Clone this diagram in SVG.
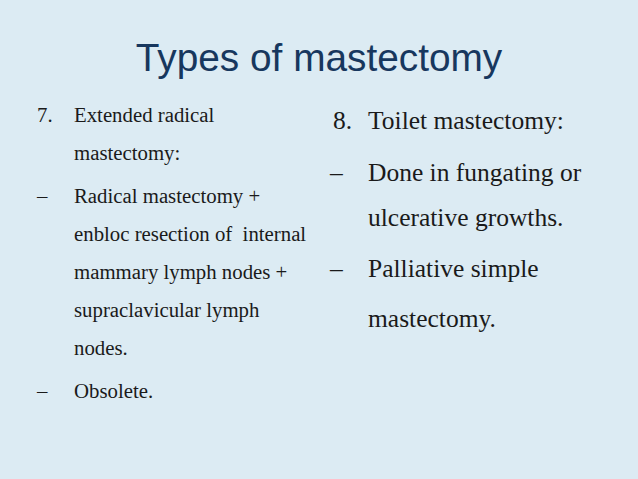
<svg xmlns="http://www.w3.org/2000/svg" width="638" height="479" viewBox="0 0 638 479">
<style>
.t{font-family:"Liberation Sans",Arial,sans-serif;font-size:38.8px;fill:#17375e}
.l{font-family:"Liberation Serif","Times New Roman",serif;font-size:20.8px;fill:#1a1a1a;white-space:pre}
.r{font-family:"Liberation Serif","Times New Roman",serif;font-size:25.5px;fill:#1a1a1a}
</style>
<rect width="638" height="479" fill="#dcebf3"/>
<text class="t" x="319" y="71" text-anchor="middle">Types of mastectomy</text>
<g id="left">
<text class="l" x="37" y="122">7.</text>
<text class="l" x="74" y="122">Extended radical</text>
<text class="l" x="74" y="160">mastectomy:</text>
<text class="l" x="37" y="203">–</text>
<text class="l" x="74" y="203">Radical mastectomy +</text>
<text class="l" x="74" y="241">enbloc resection of  internal</text>
<text class="l" x="74" y="279">mammary lymph nodes +</text>
<text class="l" x="74" y="317">supraclavicular lymph</text>
<text class="l" x="74" y="355">nodes.</text>
<text class="l" x="37" y="398">–</text>
<text class="l" x="74" y="398">Obsolete.</text>
</g>
<g id="right">
<text class="r" x="333" y="129">8.</text>
<text class="r" x="368" y="129">Toilet mastectomy:</text>
<text class="r" x="330" y="181">–</text>
<text class="r" x="368" y="181">Done in fungating or</text>
<text class="r" x="368" y="226">ulcerative growths.</text>
<text class="r" x="330" y="277">–</text>
<text class="r" x="368" y="277">Palliative simple</text>
<text class="r" x="368" y="327">mastectomy.</text>
</g>
</svg>
